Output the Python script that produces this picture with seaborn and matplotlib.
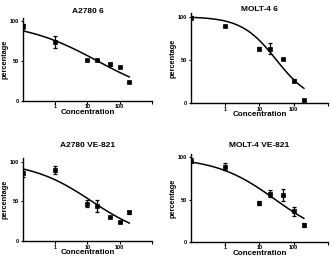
import numpy as np
import pandas as pd
import seaborn as sns
from matplotlib import pyplot as plt

# concentrations (same for every panel)
conc = [0.1, 1, 10, 20, 50, 100, 200]

titles = ["A2780 6", "MOLT-4 6", "A2780 VE-821", "MOLT-4 VE-821"]

# mean percentage
a2780_6 = [94, 74, 52, 51, 46, 42, 24]
molt4_6 = [99, 89, 63, 63, 51, 26, 3]
a2780_ve = [86, 89, 47, 44, 30, 24, 36]
molt4_ve = [96, 89, 46, 57, 55, 36, 20]

# error bar half-lengths
a2780_6_err = [3, 7, 0, 0, 2, 0, 0]
molt4_6_err = [2, 0, 2, 6, 0, 2, 1]
a2780_ve_err = [5, 5, 4, 7, 0, 0, 2]
molt4_ve_err = [3, 4, 2, 4, 7, 5, 2]

# dose-response fit: top, bottom, IC50, hill slope
fit_params = [(100, 0, 20.8, 0.374),
              (100, 0, 31.0, 0.854),
              (100, 0, 13.6, 0.461),
              (100, 0, 28.9, 0.498)]

values = [a2780_6, molt4_6, a2780_ve, molt4_ve]
errors = [a2780_6_err, molt4_6_err, a2780_ve_err, molt4_ve_err]

# axes boxes in figure fractions [left, bottom, width, height]
boxes = [[0.069, 0.612, 0.389, 0.318],
         [0.575, 0.604, 0.413, 0.345],
         [0.069, 0.073, 0.389, 0.318],
         [0.575, 0.070, 0.413, 0.338]]
title_pads = [4, 1.5, 8, 5]

sns.set_style("ticks")
plt.rcParams['font.family'] = ['Liberation Sans', 'DejaVu Sans']
plt.rcParams['font.weight'] = 'bold'
for key in ['text.color', 'axes.labelcolor', 'xtick.color', 'ytick.color', 'axes.edgecolor']:
    plt.rcParams[key] = 'black'

fig = plt.figure(figsize=(3.32, 2.60), dpi=100)

for i in range(4):
    ax = fig.add_axes(boxes[i])
    df = pd.DataFrame({"Concentration": conc, "percentage": values[i]})
    top, bottom, ic50, hill = fit_params[i]
    xs = np.logspace(np.log10(0.1), np.log10(200), 100)
    fit_df = pd.DataFrame({"x": xs, "y": bottom + (top - bottom) / (1 + (xs / ic50) ** hill)})

    sns.lineplot(data=fit_df, x="x", y="y", ax=ax, color="black", linewidth=1.1)
    ax.errorbar(conc, values[i], yerr=errors[i], fmt="none", ecolor="black",
                elinewidth=0.9, capsize=1.5, capthick=0.9)
    sns.scatterplot(data=df, x="Concentration", y="percentage", ax=ax, marker="s",
                    color="black", s=12, edgecolor="black", linewidth=0.5, zorder=5)

    ax.set_xscale("log")
    ax.set_xlim(0.1, 1000)
    ax.set_ylim(0, 104)
    ax.set_xticks([1, 10, 100, 1000])
    ax.set_xticklabels(["1", "10", "100", ""])
    ax.xaxis.set_minor_locator(plt.NullLocator())
    ax.set_yticks([0, 50, 100])
    ax.tick_params(labelsize=4, length=1.8, width=0.8, pad=0.8)
    ax.set_xlabel("Concentration", fontsize=5.8, fontweight="bold", labelpad=-0.5)
    ax.set_ylabel("percentage", fontsize=5.3, fontweight="bold", labelpad=1)
    ax.set_title(titles[i], fontsize=6, fontweight="bold", pad=title_pads[i])
    for s in ["left", "bottom"]:
        ax.spines[s].set_linewidth(1.0)
    sns.despine(ax=ax)

plt.savefig("out.png", dpi=100)
plt.close()
